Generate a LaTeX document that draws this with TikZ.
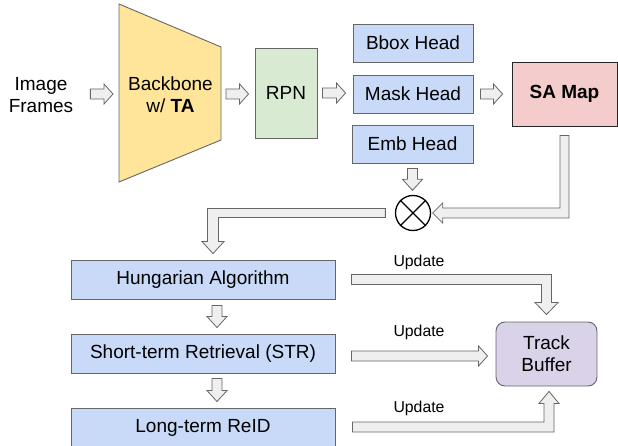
\documentclass[tikz,border=0pt]{standalone}
\usepackage{fontspec}
\setmainfont{Liberation Sans}
\usetikzlibrary{calc}
\definecolor{yel}{HTML}{FFE599}
\definecolor{grn}{HTML}{D9EAD3}
\definecolor{blu}{HTML}{C9DAF8}
\definecolor{pnk}{HTML}{F4CCCC}
\definecolor{prp}{HTML}{D9D2E9}
\definecolor{afill}{HTML}{EFEFEF}
\definecolor{edge}{HTML}{666666}
\tikzset{
  mainfont/.style={font=\fontsize{19}{22}\selectfont},
  box/.style={draw=edge, line width=0.9pt, inner sep=0pt, mainfont, align=center},
  bluebox/.style={box, fill=blu},
  blk/.style={draw=edge, fill=afill, line width=0.8pt, line join=miter},
  upd/.style={font=\fontsize{15.8}{18}\selectfont, inner sep=0pt, anchor=base},
}
% straight block arrows
\newcommand\harr[2]{\path[blk] let \p1=#1, \p2=#2 in
  (\x1,\y1+5pt) -- (\x2-9pt,\y1+5pt) -- (\x2-9pt,\y1+10pt) -- (\x2,\y1) --
  (\x2-9pt,\y1-10pt) -- (\x2-9pt,\y1-5pt) -- (\x1,\y1-5pt) -- cycle;}
\newcommand\varr[2]{\path[blk] let \p1=#1, \p2=#2 in
  (\x1-5pt,\y1) -- (\x1-5pt,\y2+11pt) -- (\x1-10pt,\y2+11pt) -- (\x1,\y2) --
  (\x1+10pt,\y2+11pt) -- (\x1+5pt,\y2+11pt) -- (\x1+5pt,\y1) -- cycle;}
\begin{document}
\begin{tikzpicture}[x=1pt,y=-1pt]
\useasboundingbox (0,0) rectangle (618,446);
\clip (0,0) rectangle (618,446);

% nodes
\node[mainfont, align=center, inner sep=0pt] (img) at (41,95) {Image\\Frames};

\coordinate (bbTL) at (119,4);
\coordinate (bbTR) at (221,47);
\coordinate (bbBR) at (221,140);
\coordinate (bbBL) at (119,182);
\filldraw[fill=yel, draw=edge, line width=0.9pt] (bbTL) -- (bbTR) -- (bbBR) -- (bbBL) -- cycle;
\node[mainfont, align=center, inner sep=0pt] (bb) at (170.5,95) {Backbone\\w/ \textbf{TA}};

\node[box, fill=grn, minimum width=62, minimum height=90] (rpn) at (286,93) {RPN};

\node[bluebox, minimum width=120, minimum height=38] (bbox) at (413,43) {Bbox Head};
\node[bluebox, minimum width=120, minimum height=38] (mask) at (413,94) {Mask Head};
\node[bluebox, minimum width=121, minimum height=38] (emb) at (412.5,144) {Emb Head};

\node[box, draw=black!85, fill=pnk, minimum width=105, minimum height=64] (sa) at (564.5,94) {\textbf{SA Map}};

\node[circle, draw=black, line width=1.3pt, minimum size=35, inner sep=0pt] (circ) at (413,213) {};
\draw[black, line width=1.3pt] (circ.north west) -- (circ.south east)
  (circ.north east) -- (circ.south west);

\node[bluebox, minimum width=264, minimum height=39] (hung) at (203,279.5) {Hungarian Algorithm};
\node[bluebox, minimum width=264, minimum height=39] (str) at (203,353.5) {Short-term Retrieval (STR)};
\node[bluebox, minimum width=264, minimum height=39] (ltr) at (203,427.5) {Long-term ReID};

\node[box, fill=prp, rounded corners=9pt, minimum width=101, minimum height=64] (track) at (546.5,354) {Track\\Buffer};

% straight arrows
\harr{($(img.east)+(17,-1)$)}{($(bbTL|-bb)+(-6,-1)$)}
\harr{($(bbTR|-bb)+(5,-1)$)}{($(rpn.west)+(-6,0)$)}
\harr{($(rpn.east)+(5,0)$)}{($(mask.west)+(-7,0)$)}
\harr{($(mask.east)+(7,0)$)}{($(sa.west)+(-9,0)$)}
\varr{($(emb.south)+(0,5)$)}{($(circ.north)+(0,-4.5)$)}
\varr{($(hung.south)+(14,6)$)}{($(str.north)+(14,-6)$)}
\varr{($(str.south)+(14,5)$)}{($(ltr.north)+(14,-6)$)}
\harr{($(str.east)+(16,2.5)$)}{($(track.west)+(-8,2)$)}

% SA map -> circle
\path[blk] let \p1=($(sa.south)+(0,9)$), \p2=($(circ.east)+(1.5,0)$) in
  (\x1-4.5pt,\y1) -- (\x1-4.5pt,\y2+5pt) -- (\x2+10pt,\y2+5pt) -- (\x2+10pt,\y2+10pt) --
  (\x2,\y2) -- (\x2+10pt,\y2-10pt) -- (\x2+10pt,\y2-5pt) -- (\x1+4.5pt,\y2-5pt) --
  (\x1+4.5pt,\y1) -- cycle;
% circle -> Hungarian
\path[blk] let \p1=($(circ.west)+(-9.5,0)$), \p2=($(hung.north)+(10,-6)$) in
  (\x1,\y1+4.5pt) -- (\x2-5.5pt,\y1+4.5pt) -- (\x2-5.5pt,\y2+12pt) -- (\x2-11pt,\y2+12pt) --
  (\x2,\y2) -- (\x2+11pt,\y2+12pt) -- (\x2+5.5pt,\y2+12pt) -- (\x2+5.5pt,\y1-4.5pt) --
  (\x1,\y1-4.5pt) -- cycle;
% Hungarian -> Track buffer
\path[blk] let \p1=($(hung.east)+(16,0)$), \p2=($(track.north)+(0,-7)$) in
  (\x1,\y1+5pt) -- (\x2+5pt,\y1+5pt) -- (\x2+5pt,\y2+12pt) -- (\x2+11.5pt,\y2+12pt) --
  (\x2,\y2) -- (\x2-11.5pt,\y2+12pt) -- (\x2-5pt,\y2+12pt) -- (\x2-5pt,\y1-5pt) --
  (\x1,\y1-5pt) -- cycle;
% Long-term ReID -> Track buffer
\path[blk] let \p1=($(ltr.east)+(17,-0.5)$), \p2=($(track.south)+(2.5,5)$) in
  (\x1,\y1+5pt) -- (\x2-5pt,\y1+5pt) -- (\x2-5pt,\y2-12pt) -- (\x2-10pt,\y2-12pt) --
  (\x2,\y2) -- (\x2+10pt,\y2-12pt) -- (\x2+5pt,\y2-12pt) -- (\x2+5pt,\y1-5pt) --
  (\x1,\y1-5pt) -- cycle;

% labels
\node[upd] (u1) at (419,266) {Update};
\node[upd] (u2) at (419,336) {Update};
\node[upd] (u3) at (419,412.5) {Update};
\end{tikzpicture}
\end{document}
